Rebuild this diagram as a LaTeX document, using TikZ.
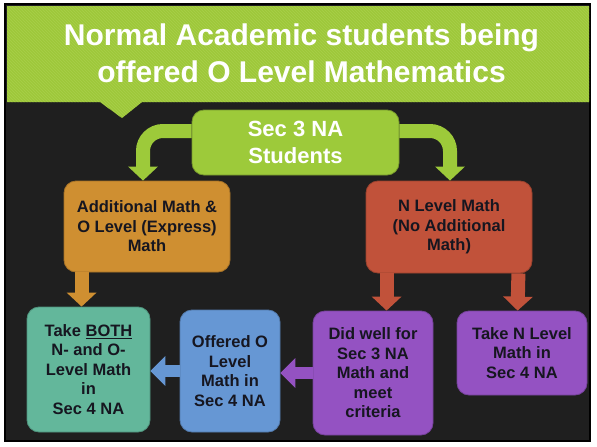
\documentclass[tikz,border=0pt]{standalone}
\usepackage{fontspec}
\setmainfont{Liberation Sans}
\usetikzlibrary{arrows.meta, positioning, calc, patterns}

\definecolor{framebg}{RGB}{31,31,31}
\definecolor{bannergreen}{RGB}{158,200,58}
\definecolor{bannerstripe}{RGB}{168,207,74}
\definecolor{limebox}{RGB}{157,202,58}
\definecolor{orangebox}{RGB}{207,143,49}
\definecolor{redbox}{RGB}{193,82,58}
\definecolor{tealbox}{RGB}{99,183,155}
\definecolor{bluebox}{RGB}{102,151,212}
\definecolor{purplebox}{RGB}{148,82,194}
\definecolor{inkdark}{RGB}{22,22,32}

\begin{document}
\begin{tikzpicture}[
    x=1pt, y=-1pt,
    box/.style={draw, rounded corners=12pt, line width=0.8pt, align=center, inner sep=2pt, text=inkdark, font=\bfseries\fontsize{16.5}{19.5}\selectfont},
    curve_arrow/.style={line width=14pt, rounded corners=20pt, -{Triangle[width=29pt, length=14pt]}},
    down_arrow/.style={line width=14pt, -{Triangle[width=29pt, length=14pt]}},
    side_arrow/.style={line width=12pt, -{Triangle[width=29pt, length=15pt]}}
]

    % Page and frame
    \useasboundingbox (0,0) rectangle (597,447);
    \fill[white] (0,0) rectangle (597,447);
    \draw[line width=2pt, draw=black, fill=framebg] (5,4) rectangle (590,441);

    % Title banner
    \fill[bannergreen, postaction={pattern=north west lines, pattern color=bannerstripe}]
        (7,6) -- (589,6) -- (589,102) -- (142,102) -- (122,118) -- (100,102) -- (7,102) -- cycle;
    \node[text=white, align=center, font=\bfseries\fontsize{30}{37}\selectfont] (title) at (301.5,53.5) {Normal Academic students being\\offered O Level Mathematics};

    % Boxes
    \node[box, fill=limebox, draw=limebox!75!black, text=white, font=\bfseries\fontsize{22}{27}\selectfont, minimum width=207pt, minimum height=65pt] (sec3) at (295.5,142.5) {Sec 3 NA\\Students};
    \node[box, fill=orangebox, draw=orangebox!80!black, minimum width=166pt, minimum height=91pt] (addmath) at (147,226.5) {Additional Math \&\\O Level (Express)\\Math};
    \node[box, fill=redbox, draw=redbox!80!black, minimum width=166pt, minimum height=92pt] (nlevel) at (449,227) {N Level Math\\(No Additional\\Math)};

    \node[box, fill=tealbox, draw=tealbox!80!black, minimum width=123pt, minimum height=125pt] (both) at (88.5,369.5) {Take \underline{BOTH}\\N- and O-\\Level Math\\in\\Sec 4 NA};
    \node[box, fill=bluebox, draw=bluebox!80!black, minimum width=100pt, minimum height=122pt] (offered) at (230,371) {Offered O\\Level\\Math in\\Sec 4 NA};
    \node[box, fill=purplebox, draw=purplebox!80!black, minimum width=120pt, minimum height=124pt] (didwell) at (373,373) {Did well for\\Sec 3 NA\\Math and\\meet\\criteria};
    \node[box, fill=purplebox, draw=purplebox!80!black, minimum width=130pt, minimum height=84pt] (takeN) at (522,353) {Take N Level\\Math in\\Sec 4 NA};

    % Arrows from Sec 3 NA
    \draw[curve_arrow, limebox] ($(sec3.west)+(0,-11.5)$) -| ($(addmath.north)+(-4,0)$);
    \draw[curve_arrow, limebox] ($(sec3.east)+(0,-11.5)$) -| ($(nlevel.north)+(1,0)$);

    % Arrows down to Sec 4 options
    \draw[down_arrow, orangebox] ($(addmath.south west)+(18,0)$) -- ($(both.north west)+(55,0)$);
    \draw[down_arrow, redbox] ($(nlevel.south west)+(21,0)$) -- ($(didwell.north west)+(74,0)$);
    \draw[down_arrow, redbox] ($(nlevel.south east)+(-14,0)$) -- ($(takeN.north west)+(61,0)$);

    % Arrows along the bottom row
    \draw[side_arrow, purplebox] (didwell.west) -- (didwell.west -| offered.east);
    \draw[side_arrow, bluebox] (offered.west) -- (offered.west -| both.east);

\end{tikzpicture}
\end{document}
